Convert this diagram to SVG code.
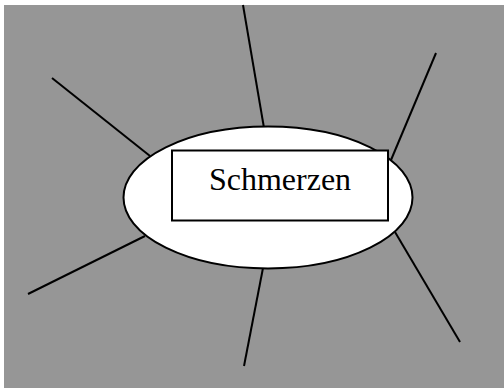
<svg xmlns="http://www.w3.org/2000/svg" width="504" height="388" viewBox="0 0 504 388">
<style>
.ln{stroke:#000;stroke-width:2;fill:none;stroke-linecap:butt}
.sh{fill:#fff;stroke:#000;stroke-width:2}
.tx{font-family:"Liberation Serif","Times New Roman",serif;font-size:32px;fill:#000}
</style>
<rect x="4" y="5" width="500" height="383" fill="#969696"/>
<g id="connectors">
<line class="ln" x1="243" y1="5" x2="264" y2="128"/>
<line class="ln" x1="52" y1="78" x2="150" y2="156"/>
<line class="ln" x1="436" y1="53" x2="391" y2="160"/>
<line class="ln" x1="28" y1="294" x2="145" y2="236"/>
<line class="ln" x1="244" y1="366" x2="263" y2="268"/>
<line class="ln" x1="460" y1="342" x2="395" y2="232"/>
</g>
<g id="ellipse">
<ellipse class="sh" cx="268" cy="197.5" rx="144.5" ry="71"/>
</g>
<g id="node-schmerzen">
<rect class="sh" x="172" y="150.5" width="216" height="70"/>
<text class="tx" x="280" y="190" text-anchor="middle">Schmerzen</text>
</g>
</svg>
